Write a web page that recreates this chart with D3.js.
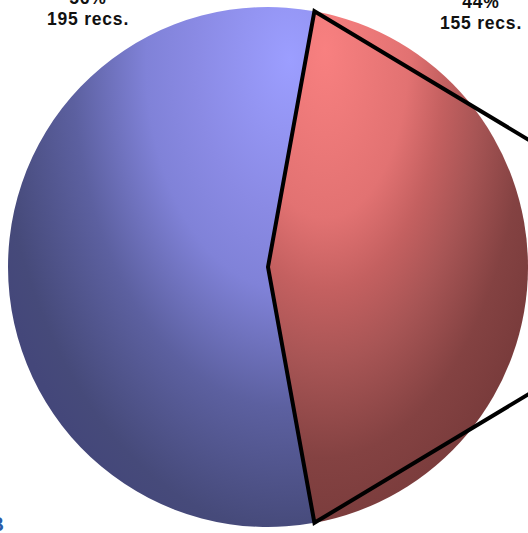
<!DOCTYPE html>
<html><head><meta charset="utf-8">
<script src="https://cdn.jsdelivr.net/npm/d3@7"></script>
<style>html,body{margin:0;padding:0;background:#fff;overflow:hidden}</style>
</head><body>
<script>
const categories = ["A", "B"];
const records = [195, 155];
const sliceColors = [
  ["#9c9eff", "#8a8ae4", "#8082d8", "#5c60a0", "#464a7a", "#44477a"],
  ["#f88080", "#e27272", "#c46060", "#a85555", "#844242", "#7a3c3c"]
];
const gradStops = [
  [0, 0.3, 0.45, 0.68, 0.92, 1],
  [0, 0.35, 0.5, 0.65, 0.85, 1]
];
const labelPos = [{x: 88, y1: 4, y2: 25}, {x: 481, y1: 7.5, y2: 29}];

const W = 528, H = 533;
const cx = 268, cy = 267, R = 260;
const svg = d3.select("body").append("svg").attr("width", W).attr("height", H);
const defs = svg.append("defs");

const total = d3.sum(records);
const fRed = records[1] / total;
const pie = d3.pie().sort(null).startAngle(Math.PI / 2 + fRed * Math.PI).endAngle(Math.PI / 2 + fRed * Math.PI + 2 * Math.PI);
const arcs = pie(records);
const arc = d3.arc().innerRadius(0).outerRadius(R);

// gradient focal points (relative to the centre) and extents
const gradGeo = [
  {dx: 22, dy: -207, r: 320, sy: 1.6},
  {dx: 57, dy: -217, r: 240, sy: 2.0}
];
gradGeo.forEach((g, i) => {
  const gx = g.dx, gy = g.dy;
  const rg = defs.append("radialGradient").attr("id", "g" + i)
    .attr("gradientUnits", "userSpaceOnUse")
    .attr("cx", gx).attr("cy", gy).attr("fx", gx).attr("fy", gy).attr("r", g.r)
    .attr("gradientTransform", `translate(${gx},${gy}) scale(1,${g.sy}) translate(${-gx},${-gy})`);
  gradStops[i].forEach((o, k) => rg.append("stop").attr("offset", o).attr("stop-color", sliceColors[i][k]));
});

const g = svg.append("g").attr("transform", `translate(${cx},${cy})`);
g.selectAll("path.slice").data(arcs).join("path").attr("class", "slice")
  .attr("d", arc).attr("fill", (d, i) => `url(#g${i})`);

// outline of the red slice with connector lines to the secondary chart
const red = arcs[1];
const pt = a => [R * Math.sin(a), -R * Math.cos(a)];
const pTop = pt(red.startAngle), pBot = pt(red.endAngle);
const ext = W;
const tanUp = Math.tan(31 * Math.PI / 180);
const topFar = [pTop[0] + ext, pTop[1] + ext * tanUp];
const botFar = [pBot[0] + ext, pBot[1] - ext * tanUp];
g.append("path")
  .attr("d", d3.line()([topFar, pTop, [0, 0], pBot, botFar]))
  .attr("fill", "none").attr("stroke", "#000").attr("stroke-width", 4)
  .attr("stroke-linejoin", "miter").attr("stroke-miterlimit", 10);

// labels
const lab = svg.append("g").attr("font-family", "'Liberation Sans', Arial, sans-serif")
  .attr("font-weight", "bold").attr("font-size", 17.5).attr("fill", "#111")
  .attr("letter-spacing", 0.8).attr("text-anchor", "middle");
records.forEach((v, i) => {
  const pct = Math.round(v / total * 100) + "%";
  lab.append("text").attr("x", labelPos[i].x).attr("y", labelPos[i].y1).text(pct);
  lab.append("text").attr("x", labelPos[i].x).attr("y", labelPos[i].y2).text(v + " recs.");
});

// clipped letter at bottom-left
svg.append("text").attr("x", 4).attr("y", 531).attr("text-anchor", "end")
  .attr("font-family", "'Liberation Sans', Arial, sans-serif").attr("font-weight", "bold")
  .attr("font-size", 20).attr("fill", "#2a5ca8").text("B");
</script>
</body></html>
